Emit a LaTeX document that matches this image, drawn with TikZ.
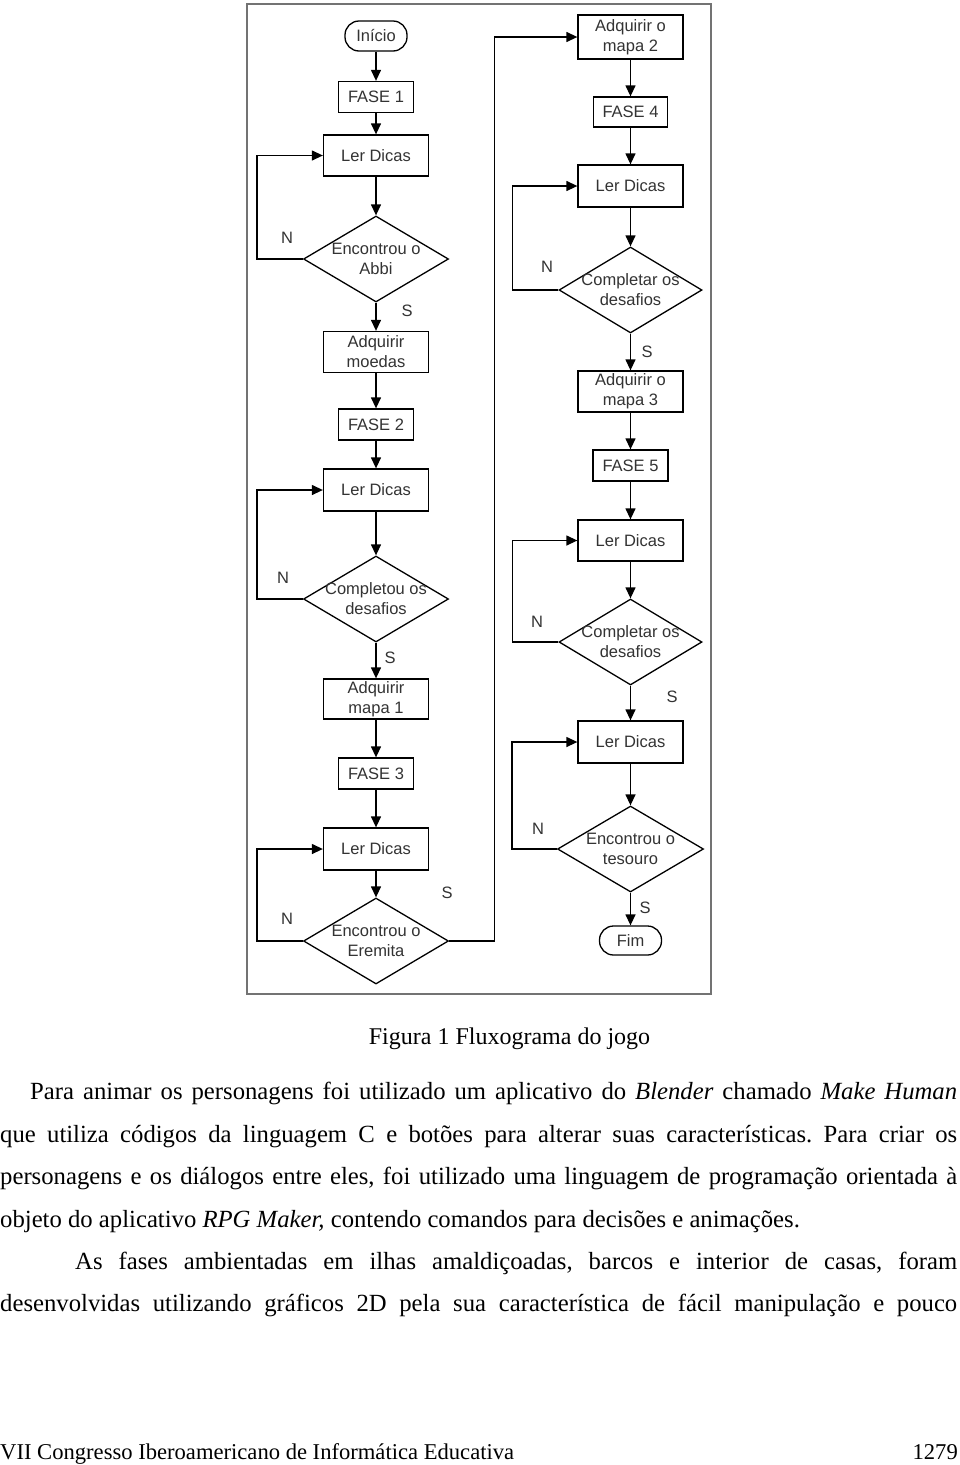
\documentclass[tikz,border=0pt]{standalone}
\usepackage{fontspec}
\setmainfont{Liberation Serif}
\setsansfont{Liberation Sans}
\usetikzlibrary{shapes.geometric,arrows.meta}
\newcommand\fcfont{\sffamily\fontsize{16.5}{20}\selectfont}
\newcommand\mybodyfont{\rmfamily\fontsize{24.7}{28}\selectfont}
\frenchspacing
\begin{document}
\begin{tikzpicture}[x=1pt,y=-1pt,
  box/.style={draw=black, line width=1.3, fill=white, minimum width=105, minimum height=41, inner sep=0, font=\fcfont, text=black!80, align=center},
  fbox/.style={box, minimum width=75, minimum height=31},
  term/.style={box, rounded corners=14, minimum width=62, minimum height=30},
  dia/.style={draw=black, diamond, line width=1.3, minimum width=145, minimum height=86, inner sep=0},
  lbl/.style={font=\fcfont, text=black!80, align=center, inner sep=0},
  arr/.style={line width=1.3, -{Triangle[length=11,width=10]}},
  body/.style={font=\mybodyfont, anchor=base west, inner sep=0, text=black},
]
\fill[white] (0,0) rectangle (960,1465);
\useasboundingbox (0,0) rectangle (960,1465);
% frame
\draw[draw=black!55, line width=1.5] (247,4) rectangle (711,994);
% left column
\node[term] (ini) at (376,36) {Início};
\node[fbox] (f1) at (376,97) {FASE 1};
\node[box] (ld1) at (376,155.5) {Ler Dicas};
\node[dia] (d1) at (376,259) {};
\node[lbl] (t1) at (d1) {Encontrou o\\Abbi};
\node[box] (am) at (376,352) {Adquirir\\moedas};
\node[fbox] (f2) at (376,424.5) {FASE 2};
\node[box, minimum height=42] (ld2) at (376,490) {Ler Dicas};
\node[dia] (d2) at (376,599) {};
\node[lbl] (t2) at (d2) {Completou os\\desafios};
\node[box, minimum height=40] (am1) at (376,699) {Adquirir\\mapa 1};
\node[fbox] (f3) at (376,773.5) {FASE 3};
\node[box, minimum height=42] (ld3) at (376,849) {Ler Dicas};
\node[dia] (d3) at (376,941) {};
\node[lbl] (t3) at (d3) {Encontrou o\\Eremita};
% right column
\node[box, minimum height=44] (am2) at (630.5,37) {Adquirir o\\mapa 2};
\node[fbox, minimum width=74, minimum height=30] (f4) at (630.5,112) {FASE 4};
\node[box, minimum height=42] (ld4) at (630.5,186) {Ler Dicas};
\node[dia, minimum width=143] (d4) at (630.5,290) {};
\node[lbl] (t4) at (d4) {Completar os\\desafios};
\node[box] (am3) at (630.5,391.5) {Adquirir o\\mapa 3};
\node[fbox] (f5) at (630.5,465.5) {FASE 5};
\node[box] (ld5) at (630.5,540.5) {Ler Dicas};
\node[dia, minimum width=143] (d5) at (630.5,642) {};
\node[lbl] (t5) at (d5) {Completar os\\desafios};
\node[box, minimum height=42] (ld6) at (630.5,742) {Ler Dicas};
\node[dia, minimum width=146] (d6) at (630.5,849) {};
\node[lbl] (t6) at (d6) {Encontrou o\\tesouro};
\node[term, minimum height=29] (fim) at (630.5,940.5) {Fim};
% connectors left
\draw[arr] (ini) -- (f1);
\draw[arr] (f1) -- (ld1);
\draw[arr] (ld1) -- (d1);
\draw[arr] (d1) -- (am);
\draw[arr] (am) -- (f2);
\draw[arr] (f2) -- (ld2);
\draw[arr] (ld2) -- (d2);
\draw[arr] (d2) -- (am1);
\draw[arr] (am1) -- (f3);
\draw[arr] (f3) -- (ld3);
\draw[arr] (ld3) -- (d3);
\draw[arr] (d1.west) -- ++(-46,0) |- (ld1.west);
\draw[arr] (d2.west) -- ++(-46,0) |- (ld2.west);
\draw[arr] (d3.west) -- ++(-46,0) |- (ld3.west);
\draw[arr] (d3.east) -- ++(45,0) |- (am2.west);
% connectors right
\draw[arr] (am2) -- (f4);
\draw[arr] (f4) -- (ld4);
\draw[arr] (ld4) -- (d4);
\draw[arr] (d4) -- (am3);
\draw[arr] (am3) -- (f5);
\draw[arr] (f5) -- (ld5);
\draw[arr] (ld5) -- (d5);
\draw[arr] (d5) -- (ld6);
\draw[arr] (ld6) -- (d6);
\draw[arr] (d6) -- (fim);
\draw[arr] (d4.west) -- ++(-46,0) |- (ld4.west);
\draw[arr] (d5.west) -- ++(-46,0) |- (ld5.west);
\draw[arr] (d6.west) -- ++(-45,0) |- (ld6.west);
% N / S labels
\node[lbl] (n1) at (287,238) {N};
\node[lbl] (s1) at (407,311) {S};
\node[lbl] (n2) at (283,578) {N};
\node[lbl] (s2) at (390,658) {S};
\node[lbl] (n3) at (287,919) {N};
\node[lbl] (s3) at (447,893) {S};
\node[lbl] (n4) at (547,267) {N};
\node[lbl] (s4) at (647,352) {S};
\node[lbl] (n5) at (537,622) {N};
\node[lbl] (s5) at (672,697) {S};
\node[lbl] (n6) at (538,829) {N};
\node[lbl] (s6) at (645,908) {S};
% caption
\node[font=\rmfamily\fontsize{24}{28}\selectfont, anchor=base, inner sep=0] (cap) at (509.5,1044) {Figura 1 Fluxograma do jogo};
% body text
\node[body] (p1) at (30,1099) {\makebox[927pt][s]{Para animar os personagens foi utilizado um aplicativo do \textit{Blender} chamado \textit{Make Human}}};
\node[body] (p2) at (0,1142) {\makebox[957pt][s]{que utiliza códigos da linguagem C e botões para alterar suas características. Para criar os}};
\node[body] (p3) at (0,1184) {\makebox[957pt][s]{personagens e os diálogos entre eles, foi utilizado uma linguagem de programação orientada à}};
\node[body] (p4) at (0,1227) {objeto do aplicativo \textit{RPG Maker,} contendo comandos para decisões e animações.};
\node[body] (p5) at (75,1269) {\makebox[882pt][s]{As fases ambientadas em ilhas amaldiçoadas, barcos e interior de casas, foram}};
\node[body] (p6) at (0,1311) {\makebox[957pt][s]{desenvolvidas utilizando gráficos 2D pela sua característica de fácil manipulação e pouco}};
% footer
\node[font=\rmfamily\fontsize{22.6}{26}\selectfont, anchor=base west, inner sep=0] (ft) at (0,1459) {VII Congresso Iberoamericano de Informática Educativa};
\node[font=\rmfamily\fontsize{22.6}{26}\selectfont, anchor=base east, inner sep=0] (pg) at (958,1459) {1279};
\end{tikzpicture}
\end{document}
